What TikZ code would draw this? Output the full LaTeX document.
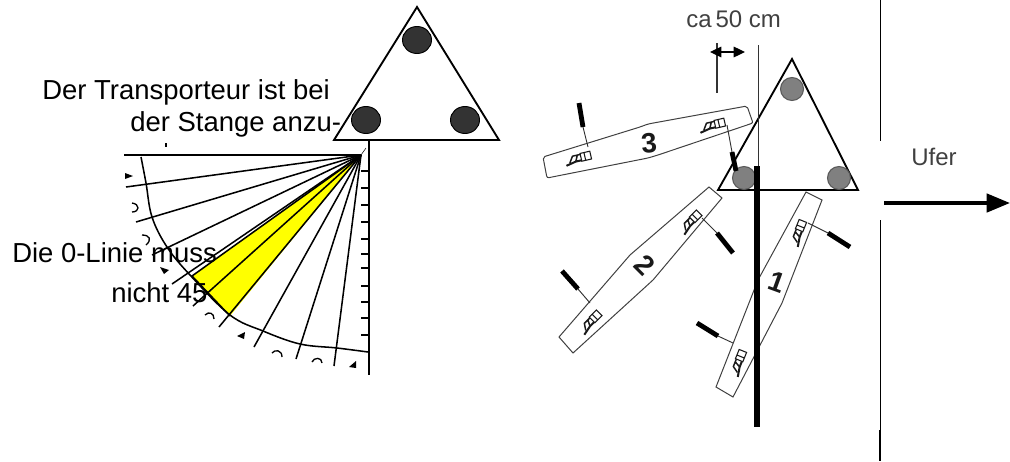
\documentclass[tikz,border=0pt]{standalone}
\usepackage{fontspec}
\setmainfont{Liberation Sans}
\usepackage{tikz}
\usetikzlibrary{arrows.meta}

\definecolor{wedgeyellow}{RGB}{255,255,0}

\tikzset{
  rower/.pic={
    \draw[line width=.8pt, draw=black!90] (3,-4) rectangle (13,4) (7,-4) -- (7,4);
    \draw[line width=1.5pt, draw=black!90] (-13,5) -- (-3,3) -- (3,3);
    \draw[line width=1.1pt, draw=black!90] (-9,3) -- (-5,-3) -- (3,-3) (-3,3) -- (0,-3);
  }
}

\begin{document}
\begin{tikzpicture}[
    x=0.75pt, y=-0.75pt,
    framed/.style={draw=black, line width=1.4pt, line join=miter},
    poleleft/.style={fill=black!80, draw=black, line width=.7pt},
    poleright/.style={fill=black!50, draw=black!65, line width=.8pt},
    ray/.style={draw=black, line width=1.15pt},
    fragment/.style={draw=black, line width=1pt},
    tipfrag/.style={fill=black},
    boat/.style={draw=black!75, line width=.75pt},
    rigger/.style={draw=black!80, line width=.7pt},
    oar/.style={draw=black, line width=3.6pt},
    caption/.style={anchor=base west, inner sep=0pt, font=\fontsize{20.6}{24}\selectfont},
    graylabel/.style={anchor=base west, inner sep=0pt, text=black!75, font=\fontsize{18}{21}\selectfont},
    boatnum/.style={inner sep=0pt, text=black!90, font=\fontsize{21}{25}\selectfont\bfseries}
  ]
  \useasboundingbox (0,0) rectangle (1010,461);

  % left triangle
  \draw[framed] (417,7) -- (499,140) -- (334,140) -- cycle;
  \foreach \px/\py in {417/40, 366/120, 465/120}
    \draw[poleleft] (\px,\py) ellipse (14.5 and 13.5);

  % protractor
  \fill[wedgeyellow] (361,155) -- (192,276) -- (230,316) -- cycle;
  \draw[framed, line width=1.6pt] (369,140) -- (369,375);
  \draw[ray, line width=1.3pt] (124,155) -- (361,155);
  \draw[draw=black, line width=.4pt] (366,148) -- (361,155);
  \foreach \ex/\ey in {126/187, 136/222, 152/255, 172/284, 193/306, 219/327, 254/347, 296/359, 334/366}
    \draw[ray] (361,155) -- (\ex,\ey);
  \draw[ray] (361,155) -- (192,276) -- (230,316);
  \foreach \ty in {171,188,205,222,239,254,268,286,302,318,335}
    \draw[ray] (361,\ty) -- (369,\ty);
  \draw[ray] plot[smooth, tension=.6] coordinates {(141,157) (146,183) (152,217) (167,247) (190,275) (230,315) (263,331) (300,344) (337,348) (368,352)};

  % cut digits along the scale
  \fill[tipfrag] (125,173) -- (133,176) -- (125,179) -- cycle;
  \fill[tipfrag] (160,267) -- (169,270) -- (164,274) -- cycle;
  \fill[tipfrag] (237,336) -- (245,332) -- (244,339) -- cycle;
  \fill[tipfrag] (349,367) -- (356,361) -- (356,368) -- cycle;
  \draw[fragment] (132,203) .. controls (140,204) and (140,212) .. (132,212);
  \draw[fragment] (142,235) .. controls (150,235) and (152,240) .. (146,245);
  \draw[fragment] (205,315) .. controls (209,311) and (214,313) .. (214,319);
  \draw[fragment] (272,353) .. controls (275,349) and (282,350) .. (282,357);
  \draw[fragment] (312,362) .. controls (314,357) and (322,357) .. (322,363);
  \draw[fragment, line width=1.2pt] (166,143) -- (166,147);

  \node[caption] (transportA) at (42,99) {Der Transporteur ist bei};
  \node[caption] (transportB) at (130,131) {der Stange anzu-};
  \node[caption] (zeroA) at (12,262) {Die 0-Linie muss};
  \node[caption] (zeroB) at (111,302) {nicht 45};

  % right triangle
  \draw[framed] (792,59) -- (858,190) -- (718,190) -- cycle;
  \foreach \px/\py in {792/89, 744/178, 839/178}
    \draw[poleright] (\px,\py) circle (11.5);

  % boats
  \draw[boat, rounded corners=1.5pt] (543,157) -- (547,178) -- (648,158) -- (658,155) -- (753,123) -- (747,106) -- (648,124) -- (640,127) -- cycle;
  \draw[boat] (559,337) -- (573,353) -- (653,280) -- (722,198) -- (709,187) -- (630,255) -- cycle;
  \draw[boat] (716,387) -- (733,397) -- (782,303) -- (822,200) -- (806,192) -- (758,280) -- cycle;

  \foreach \rx/\ry/\ra in {578/158/13, 712/125/13, 690/222/45, 590/322/45, 798/233/68, 738/363/68}
    \pic[rotate=\ra] at (\rx,\ry) {rower};

  \foreach \ax/\ay/\bx/\by/\cx/\cy in {
      588/147/583/127/579/103, 727/125/732/152/736/171,
      702/218/717/233/733/253, 590/303/578/289/562/271,
      808/223/828/233/850/247, 733/343/718/336/697/323} {
    \draw[rigger] (\ax,\ay) -- (\bx,\by);
    \draw[oar] (\bx,\by) -- (\cx,\cy);
  }

  \node[boatnum, rotate=5] (numThree) at (649,143) {3};
  \node[boatnum, rotate=-45] (numTwo) at (645,265) {2};
  \node[boatnum, rotate=-20] (numOne) at (777,282) {1};

  % stake line and distance
  \draw[draw=black!80, line width=.75pt] (758,45) -- (758,190);
  \draw[draw=black, line width=5.2pt] (757,166) -- (757,427);
  \draw[draw=black!80, line width=.8pt] (717,43) -- (717,93);
  \draw[{Triangle[length=8.5pt,width=8pt]}-{Triangle[length=8.5pt,width=8pt]}, draw=black, line width=.9pt] (710,52) -- (745,52);
  \node[graylabel] (distance) at (686,27) {ca\,50 cm};

  % shore
  \draw[draw=black, line width=.75pt] (880,0) -- (880,141) (880,220) -- (880,430);
  \draw[draw=black, line width=1.2pt] (880,430) -- (880,461);
  \draw[-{Triangle[length=17.5pt,width=13.7pt]}, draw=black, line width=2.8pt] (884,203) -- (1010,203);
  \node[graylabel] (shore) at (911,165) {Ufer};
\end{tikzpicture}
\end{document}
